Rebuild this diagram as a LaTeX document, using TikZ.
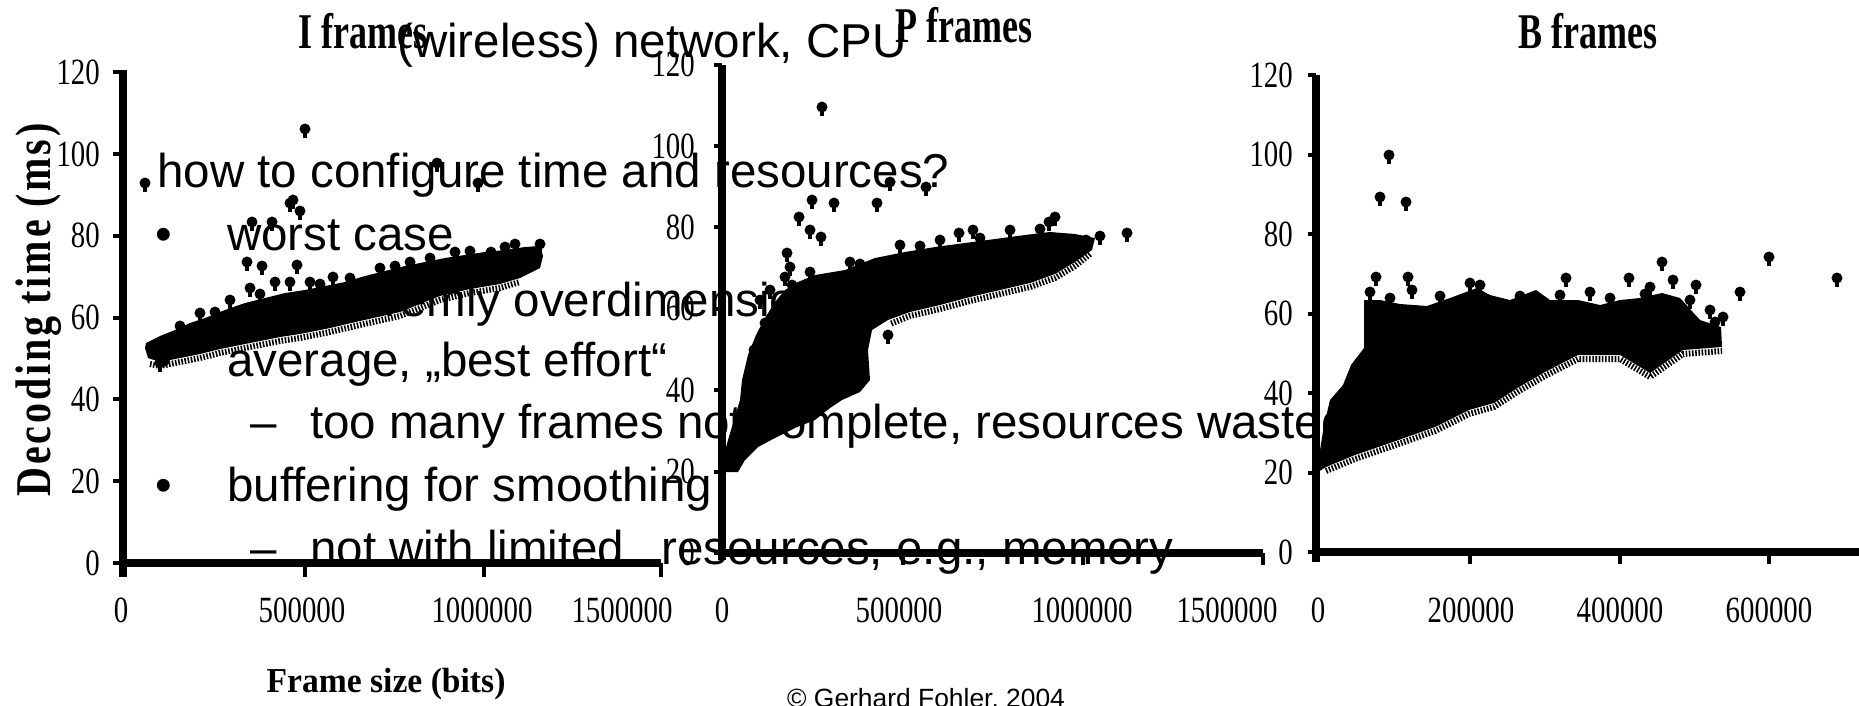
\documentclass[tikz,border=0pt]{standalone}
\usepackage{fontspec}
\usepackage{graphicx}
\setmainfont{Liberation Sans}
\newfontfamily\titleserif[FakeStretch=0.72]{Liberation Serif}
\newfontfamily\tickserif[FakeStretch=0.78]{Liberation Serif}
\newfontfamily\labelserif{Liberation Serif}

\tikzset{
  slidetext/.style={font=\fontsize{47.5}{47.5}\selectfont, anchor=base west, inner sep=0pt},
  foottext/.style={font=\fontsize{26.4}{26.4}\selectfont, anchor=base west, inner sep=0pt},
  plottitle/.style={font=\titleserif\bfseries\fontsize{50}{50}\selectfont, anchor=base west, inner sep=0pt},
  ylab/.style={font=\tickserif\fontsize{37}{37}\selectfont, anchor=east, inner sep=0pt},
  xlab/.style={font=\tickserif\fontsize{37}{37}\selectfont, anchor=center, inner sep=0pt},
  axisline/.style={line width=8pt, black},
  tickline/.style={line width=4pt, black},
  cloud/.style={fill=black},
  comb/.style={line width=6pt, black, dash pattern=on 1.6pt off 1.6pt},
}
% one scatter marker: a dot with a short stem below
\newcommand\datapt[2]{\fill (#1,#2) circle[radius=5.5]; \fill (#1-1.6,#2) rectangle (#1+1.6,#2+9);}

\begin{document}
\begin{tikzpicture}[x=1pt,y=-1pt]
\useasboundingbox (0,0) rectangle (1859,705);
\fill[white] (0,0) rectangle (1859,705);

% ---------------- slide text ----------------
\node[slidetext] (l0) at (397,57) {(wireless) network, CPU};
\node[slidetext] (l1) at (157,187) {how to configure time and resources?};
\node[slidetext] (b2) at (155,250) {•};
\node[slidetext] (l2) at (227,250) {worst case};
\node[slidetext] (d3) at (250,316) {–};
\node[slidetext] (l3) at (321,316) {extremly overdimensioned};
\node[slidetext] (b4) at (155,376) {•};
\node[slidetext] (l4) at (227,376) {average, „best effort“};
\node[slidetext] (d5) at (250,438) {–};
\node[slidetext] (l5) at (310,438) {too many frames not complete, resources wasted};
\node[slidetext] (b6) at (155,501) {•};
\node[slidetext] (l6) at (227,501) {buffering for smoothing};
\node[slidetext] (d7) at (250,564) {–};
\node[slidetext] (l7) at (310,564) {not with limited\hspace{24pt} resources, e.g., memory};
\node[foottext] (foot) at (787,707) {© Gerhard Fohler, 2004};

% ---------------- shared axis labels ----------------
\node[rotate=90, anchor=base, inner sep=0pt] (ylabel) at (50,310)
  {\scalebox{0.8}[1]{\fontsize{50}{50}\labelserif\bfseries\addfontfeature{LetterSpace=7}Decoding time (ms)}};
\node[anchor=base, inner sep=0pt] (xlabel) at (386,692)
  {\scalebox{0.96}[1]{\fontsize{35}{35}\labelserif\bfseries Frame size (bits)}};

% ---------------- I frames ----------------
\node[plottitle] (ititle) at (298,48) {I frames};
\fill[cloud] (146,343) -- (160,336) -- (175,330) -- (190,323) -- (205,318) -- (225,310)
  -- (245,303) -- (265,298) -- (285,293) -- (305,290) -- (325,286) -- (345,282)
  -- (365,276) -- (385,271) -- (405,266) -- (425,262) -- (445,258) -- (465,255)
  -- (485,252) -- (505,250) -- (525,247) -- (540,246) -- (543,256)
  -- (540,268) -- (520,278) -- (500,284) -- (470,289) -- (440,296) -- (400,312)
  -- (360,321) -- (330,328) -- (300,334) -- (280,337) -- (260,341) -- (240,345)
  -- (220,349) -- (200,354) -- (180,358) -- (160,362) -- (148,358) -- (145,348) -- cycle;
\draw[comb] (150,364) -- (160,366) -- (180,362) -- (200,358) -- (220,353) -- (240,349)
  -- (260,345) -- (280,341) -- (300,338) -- (330,332) -- (360,325) -- (400,316)
  -- (440,300) -- (470,293) -- (500,288) -- (520,282);
\foreach \px/\py in {145/183, 305/129, 437/163, 478/183, 290/203, 300/211, 293/200,
  252/222, 272/222, 247/262, 262/266, 297/265, 250/288, 275/282, 290/282, 310/282,
  333/277, 380/268, 533/252, 491/252, 160/363, 200/313, 230/300, 410/262, 455/252, 515/244,
  180/326, 215/312, 260/294, 320/284, 350/278, 395/266, 430/258, 470/251, 505/247, 540/244}
  {\datapt{\px}{\py}}
\draw[axisline] (123,70) -- (123,577);
\draw[axisline] (119,563) -- (661,563);
\foreach \tx in {305,484,661} \draw[tickline] (\tx,563) -- (\tx,577);
\foreach \v in {0,20,...,120} {
  \draw[tickline] (113,563-\v*4.09) -- (123,563-\v*4.09);
  \node[ylab] (iy\v) at (100,563-\v*4.09) {\v};
}
\foreach \tx/\lab [count=\i] in {121/0, 302/500000, 482/1000000, 622/1500000}
  \node[xlab] (ix\i) at (\tx,610) {\lab};

% ---------------- P frames ----------------
\node[plottitle] (ptitle) at (895,42) {P frames};
\fill[cloud] (722,472) -- (724,455) -- (728,440) -- (734,420) -- (740,400) -- (742,380)
  -- (748,355) -- (756,335) -- (765,318) -- (775,302) -- (785,290) -- (798,282)
  -- (815,275) -- (845,270) -- (875,258) -- (905,252) -- (935,247) -- (965,243)
  -- (995,239) -- (1025,235) -- (1050,232) -- (1075,234) -- (1095,238) -- (1092,250)
  -- (1075,262) -- (1055,274) -- (1030,283) -- (1000,290) -- (970,297) -- (940,305)
  -- (910,312) -- (888,320) -- (872,330) -- (868,350) -- (870,380) -- (860,392)
  -- (842,400) -- (830,408) -- (815,420) -- (795,428) -- (775,438) -- (758,447)
  -- (745,460) -- (738,472) -- cycle;
\draw[comb] (1090,254) -- (1075,266) -- (1055,278) -- (1030,287) -- (1000,294)
  -- (970,301) -- (940,309) -- (910,316) -- (890,324);
\foreach \px/\py in {822/107, 812/200, 834/203, 877/203, 799/217, 890/182, 926/187,
  810/230, 821/237, 787/253, 790/267, 785/277, 792/285, 1127/233, 1049/222, 1055/217,
  959/233, 973/230, 1069/250, 1086/240, 888/335, 765/323, 763/333, 754/350, 760/300,
  770/290, 1010/230, 940/240, 900/245, 850/262,
  810/272, 860/264, 920/246, 980/238, 1040/229, 1100/236}
  {\datapt{\px}{\py}}
\draw[axisline] (722,65) -- (722,560);
\draw[axisline] (722,553) -- (1263,553);
\foreach \tx in {903,1083,1263} \draw[tickline] (\tx,553) -- (\tx,565);
\foreach \v in {0,20,...,120} {
  \draw[tickline] (714,553-\v*4.07) -- (722,553-\v*4.07);
  \node[ylab] (py\v) at (695,553-\v*4.07) {\v};
}
\foreach \tx/\lab [count=\i] in {722/0, 899/500000, 1082/1000000, 1227/1500000}
  \node[xlab] (px\i) at (\tx,610) {\lab};

% ---------------- B frames ----------------
\node[plottitle] (btitle) at (1518,48) {B frames};
\fill[cloud] (1318,472) -- (1320,450) -- (1324,425) -- (1330,400) -- (1343,385)
  -- (1351,365) -- (1364,348) -- (1364,300) -- (1380,300) -- (1400,304) -- (1427,306)
  -- (1450,298) -- (1477,288) -- (1490,295) -- (1510,300) -- (1536,290) -- (1550,300)
  -- (1578,300) -- (1600,305) -- (1620,300) -- (1640,298) -- (1662,293) -- (1680,298)
  -- (1700,320) -- (1721,327) -- (1722,347) -- (1683,350) -- (1650,373) -- (1620,355)
  -- (1578,355) -- (1545,372) -- (1519,387) -- (1494,403) -- (1469,410) -- (1435,427)
  -- (1393,442) -- (1355,455) -- (1326,467) -- cycle;
\draw[comb] (1326,471) -- (1355,459) -- (1393,446) -- (1435,431) -- (1469,414)
  -- (1494,407) -- (1519,391) -- (1545,376) -- (1578,359) -- (1620,359) -- (1650,377)
  -- (1683,354) -- (1722,351);
\foreach \px/\py in {1389/155, 1380/197, 1406/202, 1662/262, 1769/257, 1837/278,
  1740/292, 1723/317, 1566/278, 1673/280, 1696/285, 1376/277, 1408/277, 1629/278,
  1370/292, 1412/290, 1470/283, 1590/292, 1650/287, 1710/310,
  1390/298, 1440/296, 1480/285, 1520/296, 1560/295, 1610/298, 1645/294, 1690/300, 1715/322}
  {\datapt{\px}{\py}}
\draw[axisline] (1316,75) -- (1316,562);
\draw[axisline] (1316,552) -- (1859,552);
\foreach \tx in {1470,1620,1769} \draw[tickline] (\tx,552) -- (\tx,564);
\foreach \v in {0,20,...,120} {
  \draw[tickline] (1308,552-\v*3.975) -- (1316,552-\v*3.975);
  \node[ylab] (by\v) at (1293,552-\v*3.975) {\v};
}
\foreach \tx/\lab [count=\i] in {1318/0, 1471/200000, 1620/400000, 1769/600000}
  \node[xlab] (bx\i) at (\tx,610) {\lab};
\end{tikzpicture}
\end{document}
